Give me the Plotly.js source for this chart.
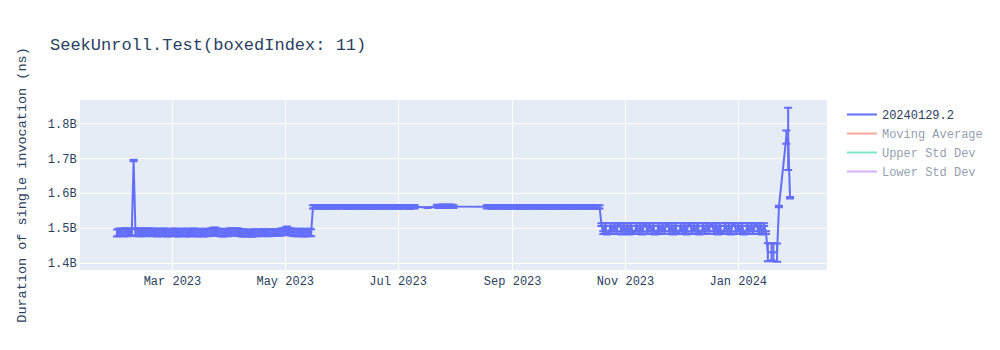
<!DOCTYPE html>
<html>
<head>
<meta charset="utf-8">
<script src="https://cdn.plot.ly/plotly-3.0.1.min.js"></script>
<style>html,body{margin:0;padding:0;background:#fff;}#chart{width:1000px;height:350px;}</style>
</head>
<body>
<div id="chart"></div>
<script>
// ---- Data ----
const chartTitle = 'SeekUnroll.Test(boxedIndex: 11)';
const yAxisTitle = 'Duration of single invocation (ns)';
const seriesName = '20240129.2';

// Segment 1: Jan 30 2023 - May 15 2023
const dates1 = [
 '2023-01-30','2023-01-31',
 '2023-02-01','2023-02-02','2023-02-03','2023-02-04','2023-02-05','2023-02-06','2023-02-07','2023-02-08','2023-02-09','2023-02-10',
 '2023-02-11','2023-02-12','2023-02-13','2023-02-14','2023-02-15','2023-02-16','2023-02-17','2023-02-18','2023-02-19','2023-02-20',
 '2023-02-21','2023-02-22','2023-02-23','2023-02-24','2023-02-25','2023-02-26','2023-02-27','2023-02-28',
 '2023-03-01','2023-03-02','2023-03-03','2023-03-04','2023-03-05','2023-03-06','2023-03-07','2023-03-08','2023-03-09','2023-03-10',
 '2023-03-11','2023-03-12','2023-03-13','2023-03-14','2023-03-15','2023-03-16','2023-03-17','2023-03-18','2023-03-19','2023-03-20',
 '2023-03-21','2023-03-22','2023-03-23','2023-03-24','2023-03-25','2023-03-26','2023-03-27','2023-03-28','2023-03-29','2023-03-30','2023-03-31',
 '2023-04-01','2023-04-02','2023-04-03','2023-04-04','2023-04-05','2023-04-06','2023-04-07','2023-04-08','2023-04-09','2023-04-10',
 '2023-04-11','2023-04-12','2023-04-13','2023-04-14','2023-04-15','2023-04-16','2023-04-17','2023-04-18','2023-04-19','2023-04-20',
 '2023-04-21','2023-04-22','2023-04-23','2023-04-24','2023-04-25','2023-04-26','2023-04-27','2023-04-28','2023-04-29','2023-04-30',
 '2023-05-01','2023-05-02','2023-05-03','2023-05-04','2023-05-05','2023-05-06','2023-05-07','2023-05-08','2023-05-09','2023-05-10',
 '2023-05-11','2023-05-12','2023-05-13','2023-05-14','2023-05-15'
];
const values1 = [
 1.486e9,1.488e9,
 1.489e9,1.487e9,1.488e9,1.490e9,1.487e9,1.489e9,1.488e9,1.694e9,1.489e9,1.487e9,
 1.490e9,1.488e9,1.489e9,1.487e9,1.488e9,1.490e9,1.488e9,1.487e9,1.489e9,1.488e9,
 1.486e9,1.488e9,1.487e9,1.489e9,1.488e9,1.486e9,1.487e9,1.488e9,
 1.487e9,1.489e9,1.488e9,1.486e9,1.487e9,1.488e9,1.489e9,1.487e9,1.486e9,1.488e9,
 1.487e9,1.489e9,1.488e9,1.486e9,1.487e9,1.488e9,1.487e9,1.486e9,1.488e9,1.487e9,
 1.488e9,1.489e9,1.490e9,1.491e9,1.489e9,1.488e9,1.487e9,1.486e9,1.487e9,1.488e9,1.487e9,
 1.489e9,1.490e9,1.488e9,1.489e9,1.490e9,1.488e9,1.487e9,1.486e9,1.487e9,1.485e9,
 1.483e9,1.484e9,1.486e9,1.487e9,1.486e9,1.487e9,1.488e9,1.486e9,1.487e9,1.488e9,
 1.487e9,1.486e9,1.487e9,1.488e9,1.487e9,1.488e9,1.487e9,1.488e9,1.489e9,1.490e9,
 1.491e9,1.493e9,1.490e9,1.489e9,1.488e9,1.487e9,1.488e9,1.487e9,1.488e9,1.487e9,
 1.486e9,1.488e9,1.487e9,1.488e9,1.487e9
];
const errors1 = [
 0.010e9,0.010e9,
 0.010e9,0.010e9,0.011e9,0.010e9,0.010e9,0.010e9,0.010e9,0.002e9,0.010e9,0.010e9,
 0.010e9,0.011e9,0.010e9,0.010e9,0.010e9,0.010e9,0.010e9,0.010e9,0.010e9,0.010e9,
 0.010e9,0.010e9,0.010e9,0.010e9,0.010e9,0.010e9,0.010e9,0.010e9,
 0.010e9,0.010e9,0.010e9,0.010e9,0.010e9,0.009e9,0.010e9,0.010e9,0.010e9,0.010e9,
 0.010e9,0.010e9,0.010e9,0.010e9,0.010e9,0.010e9,0.010e9,0.010e9,0.010e9,0.010e9,
 0.010e9,0.010e9,0.011e9,0.011e9,0.010e9,0.010e9,0.010e9,0.010e9,0.010e9,0.010e9,0.010e9,
 0.010e9,0.010e9,0.010e9,0.010e9,0.010e9,0.010e9,0.010e9,0.010e9,0.010e9,0.008e9,
 0.006e9,0.008e9,0.010e9,0.010e9,0.009e9,0.009e9,0.009e9,0.009e9,0.009e9,0.009e9,
 0.009e9,0.009e9,0.009e9,0.009e9,0.009e9,0.009e9,0.009e9,0.009e9,0.010e9,0.010e9,
 0.011e9,0.012e9,0.010e9,0.010e9,0.010e9,0.010e9,0.010e9,0.010e9,0.010e9,0.010e9,
 0.010e9,0.010e9,0.010e9,0.010e9,0.010e9
];

// Segment 2: May 16 2023 - Oct 18 2023 (with two gaps in July/August)
const dates2 = [
 '2023-05-16','2023-05-17','2023-05-18','2023-05-19','2023-05-20','2023-05-21','2023-05-22','2023-05-23','2023-05-24','2023-05-25',
 '2023-05-26','2023-05-27','2023-05-28','2023-05-29','2023-05-30','2023-05-31',
 '2023-06-01','2023-06-02','2023-06-03','2023-06-04','2023-06-05','2023-06-06','2023-06-07','2023-06-08','2023-06-09','2023-06-10',
 '2023-06-11','2023-06-12','2023-06-13','2023-06-14','2023-06-15','2023-06-16','2023-06-17','2023-06-18','2023-06-19','2023-06-20',
 '2023-06-21','2023-06-22','2023-06-23','2023-06-24','2023-06-25','2023-06-26','2023-06-27','2023-06-28','2023-06-29','2023-06-30',
 '2023-07-01','2023-07-02','2023-07-03','2023-07-04','2023-07-05','2023-07-06','2023-07-07','2023-07-08','2023-07-09','2023-07-10',
 '2023-07-17',
 '2023-07-22','2023-07-23','2023-07-24','2023-07-25','2023-07-26','2023-07-27','2023-07-28','2023-07-29','2023-07-30','2023-07-31',
 '2023-08-18','2023-08-19','2023-08-20','2023-08-21','2023-08-22','2023-08-23','2023-08-24','2023-08-25','2023-08-26','2023-08-27',
 '2023-08-28','2023-08-29','2023-08-30','2023-08-31',
 '2023-09-01','2023-09-02','2023-09-03','2023-09-04','2023-09-05','2023-09-06','2023-09-07','2023-09-08','2023-09-09','2023-09-10',
 '2023-09-11','2023-09-12','2023-09-13','2023-09-14','2023-09-15','2023-09-16','2023-09-17','2023-09-18','2023-09-19','2023-09-20',
 '2023-09-21','2023-09-22','2023-09-23','2023-09-24','2023-09-25','2023-09-26','2023-09-27','2023-09-28','2023-09-29','2023-09-30',
 '2023-10-01','2023-10-02','2023-10-03','2023-10-04','2023-10-05','2023-10-06','2023-10-07','2023-10-08','2023-10-09','2023-10-10',
 '2023-10-11','2023-10-12','2023-10-13','2023-10-14','2023-10-15','2023-10-16','2023-10-17','2023-10-18'
];
const values2 = [
 1.561e9,1.562e9,1.561e9,1.560e9,1.561e9,1.562e9,1.561e9,1.561e9,1.560e9,1.561e9,
 1.562e9,1.561e9,1.560e9,1.561e9,1.562e9,1.561e9,
 1.561e9,1.562e9,1.561e9,1.560e9,1.561e9,1.561e9,1.562e9,1.561e9,1.560e9,1.561e9,
 1.562e9,1.561e9,1.561e9,1.560e9,1.561e9,1.562e9,1.561e9,1.560e9,1.561e9,1.561e9,
 1.562e9,1.561e9,1.560e9,1.561e9,1.562e9,1.561e9,1.561e9,1.560e9,1.561e9,1.562e9,
 1.561e9,1.560e9,1.561e9,1.562e9,1.561e9,1.561e9,1.560e9,1.561e9,1.562e9,1.561e9,
 1.559e9,
 1.563e9,1.562e9,1.563e9,1.564e9,1.563e9,1.562e9,1.563e9,1.564e9,1.563e9,1.562e9,
 1.561e9,1.562e9,1.561e9,1.560e9,1.561e9,1.562e9,1.561e9,1.561e9,1.560e9,1.561e9,
 1.562e9,1.561e9,1.560e9,1.561e9,
 1.561e9,1.562e9,1.561e9,1.561e9,1.560e9,1.561e9,1.562e9,1.561e9,1.560e9,1.561e9,
 1.561e9,1.562e9,1.561e9,1.560e9,1.561e9,1.562e9,1.561e9,1.561e9,1.560e9,1.561e9,
 1.562e9,1.561e9,1.560e9,1.561e9,1.561e9,1.562e9,1.561e9,1.560e9,1.561e9,1.562e9,
 1.561e9,1.561e9,1.560e9,1.561e9,1.562e9,1.561e9,1.560e9,1.561e9,1.562e9,1.561e9,
 1.561e9,1.560e9,1.561e9,1.562e9,1.561e9,1.560e9,1.561e9,1.561e9
];
const errors2 = [
 0.0045e9,0.0045e9,0.0045e9,0.0045e9,0.0045e9,0.0045e9,0.0045e9,0.0045e9,0.0045e9,0.0045e9,
 0.0045e9,0.0045e9,0.0045e9,0.0045e9,0.0045e9,0.0045e9,
 0.0045e9,0.0045e9,0.0045e9,0.0045e9,0.0045e9,0.0045e9,0.0045e9,0.0045e9,0.0045e9,0.0045e9,
 0.0045e9,0.0045e9,0.0045e9,0.0045e9,0.0045e9,0.0045e9,0.0045e9,0.0045e9,0.0045e9,0.0045e9,
 0.0045e9,0.0045e9,0.0045e9,0.0045e9,0.0045e9,0.0045e9,0.0045e9,0.0045e9,0.0045e9,0.0045e9,
 0.0045e9,0.0045e9,0.0045e9,0.0045e9,0.0045e9,0.0045e9,0.0045e9,0.0045e9,0.0045e9,0.0045e9,
 0.001e9,
 0.0040e9,0.0040e9,0.0040e9,0.0040e9,0.0040e9,0.0040e9,0.0040e9,0.0040e9,0.0040e9,0.0040e9,
 0.0045e9,0.0045e9,0.0045e9,0.0045e9,0.0045e9,0.0045e9,0.0045e9,0.0045e9,0.0045e9,0.0045e9,
 0.0045e9,0.0045e9,0.0045e9,0.0045e9,
 0.0045e9,0.0045e9,0.0045e9,0.0045e9,0.0045e9,0.0045e9,0.0045e9,0.0045e9,0.0045e9,0.0045e9,
 0.0045e9,0.0045e9,0.0045e9,0.0045e9,0.0045e9,0.0045e9,0.0045e9,0.0045e9,0.0045e9,0.0045e9,
 0.0045e9,0.0045e9,0.0045e9,0.0045e9,0.0045e9,0.0045e9,0.0045e9,0.0045e9,0.0045e9,0.0045e9,
 0.0045e9,0.0045e9,0.0045e9,0.0045e9,0.0045e9,0.0045e9,0.0045e9,0.0045e9,0.0045e9,0.0045e9,
 0.0045e9,0.0045e9,0.0045e9,0.0045e9,0.0045e9,0.0045e9,0.0045e9,0.0045e9
];

// Segment 3: Oct 19 2023 - Jan 16 2024 (alternating between two levels)
const dates3 = [
 '2023-10-19','2023-10-20','2023-10-21','2023-10-22','2023-10-23','2023-10-24','2023-10-25','2023-10-26','2023-10-27','2023-10-28',
 '2023-10-29','2023-10-30','2023-10-31',
 '2023-11-01','2023-11-02','2023-11-03','2023-11-04','2023-11-05','2023-11-06','2023-11-07','2023-11-08','2023-11-09','2023-11-10',
 '2023-11-11','2023-11-12','2023-11-13','2023-11-14','2023-11-15','2023-11-16','2023-11-17','2023-11-18','2023-11-19','2023-11-20',
 '2023-11-21','2023-11-22','2023-11-23','2023-11-24','2023-11-25','2023-11-26','2023-11-27','2023-11-28','2023-11-29','2023-11-30',
 '2023-12-01','2023-12-02','2023-12-03','2023-12-04','2023-12-05','2023-12-06','2023-12-07','2023-12-08','2023-12-09','2023-12-10',
 '2023-12-11','2023-12-12','2023-12-13','2023-12-14','2023-12-15','2023-12-16','2023-12-17','2023-12-18','2023-12-19','2023-12-20',
 '2023-12-21','2023-12-22','2023-12-23','2023-12-24','2023-12-25','2023-12-26','2023-12-27','2023-12-28','2023-12-29','2023-12-30','2023-12-31',
 '2024-01-01','2024-01-02','2024-01-03','2024-01-04','2024-01-05','2024-01-06','2024-01-07','2024-01-08','2024-01-09','2024-01-10',
 '2024-01-11','2024-01-12','2024-01-13','2024-01-14','2024-01-15','2024-01-16'
];
const values3 = [
 1.510e9,1.487e9,1.511e9,1.486e9,1.487e9,1.510e9,1.488e9,1.511e9,1.487e9,1.509e9,
 1.510e9,1.486e9,1.511e9,
 1.487e9,1.510e9,1.486e9,1.511e9,1.487e9,1.488e9,1.510e9,1.487e9,1.511e9,1.486e9,
 1.510e9,1.509e9,1.487e9,1.511e9,1.488e9,1.510e9,1.486e9,1.487e9,1.511e9,1.487e9,
 1.510e9,1.488e9,1.509e9,1.511e9,1.487e9,1.510e9,1.486e9,1.511e9,1.487e9,1.488e9,
 1.510e9,1.487e9,1.511e9,1.486e9,1.510e9,1.511e9,1.487e9,1.510e9,1.488e9,1.511e9,
 1.486e9,1.487e9,1.510e9,1.487e9,1.511e9,1.488e9,1.510e9,1.509e9,1.487e9,1.511e9,
 1.486e9,1.510e9,1.487e9,1.488e9,1.511e9,1.487e9,1.510e9,1.486e9,1.511e9,1.510e9,1.487e9,
 1.510e9,1.487e9,1.511e9,1.486e9,1.487e9,1.510e9,1.488e9,1.511e9,1.487e9,1.510e9,
 1.509e9,1.487e9,1.511e9,1.486e9,1.510e9,1.487e9
];
const errors3 = [
 0.004e9,0.004e9,0.004e9,0.004e9,0.004e9,0.004e9,0.004e9,0.004e9,0.004e9,0.004e9,
 0.004e9,0.004e9,0.004e9,
 0.004e9,0.004e9,0.004e9,0.004e9,0.004e9,0.004e9,0.004e9,0.004e9,0.004e9,0.004e9,
 0.004e9,0.004e9,0.004e9,0.004e9,0.004e9,0.004e9,0.004e9,0.004e9,0.004e9,0.004e9,
 0.004e9,0.004e9,0.004e9,0.004e9,0.004e9,0.004e9,0.004e9,0.004e9,0.004e9,0.004e9,
 0.004e9,0.004e9,0.004e9,0.004e9,0.004e9,0.004e9,0.004e9,0.004e9,0.004e9,0.004e9,
 0.004e9,0.004e9,0.004e9,0.004e9,0.004e9,0.004e9,0.004e9,0.004e9,0.004e9,0.004e9,
 0.004e9,0.004e9,0.004e9,0.004e9,0.004e9,0.004e9,0.004e9,0.004e9,0.004e9,0.004e9,0.004e9,
 0.004e9,0.004e9,0.004e9,0.004e9,0.004e9,0.004e9,0.004e9,0.004e9,0.004e9,0.004e9,
 0.004e9,0.004e9,0.004e9,0.004e9,0.004e9,0.004e9
];

// Segment 4: Jan 17 2024 - Jan 29 2024
const dates4 = ['2024-01-17','2024-01-19','2024-01-20','2024-01-22','2024-01-23','2024-01-27','2024-01-28','2024-01-29'];
const values4 = [1.431e9,1.432e9,1.431e9,1.430e9,1.562e9,1.761e9,1.756e9,1.587e9];
const errors4 = [0.026e9,0.025e9,0.026e9,0.026e9,0.002e9,0.019e9,0.089e9,0.002e9];

// Hidden (legend-only) statistic series
const statDates = ['2023-01-30','2023-05-15','2023-05-16','2023-10-18','2023-10-19','2024-01-16','2024-01-29'];
const movingAverage = [1.488e9,1.488e9,1.520e9,1.561e9,1.540e9,1.498e9,1.600e9];
const upperStdDev  = [1.498e9,1.498e9,1.600e9,1.566e9,1.580e9,1.512e9,1.760e9];
const lowerStdDev  = [1.478e9,1.478e9,1.440e9,1.556e9,1.500e9,1.484e9,1.440e9];

const xRange = ['2023-01-10', '2024-02-18'];
const yRange = [1.38e9, 1.8674e9];

// ---- Build chart ----
const dates = dates1.concat(dates2, dates3, dates4);
const values = values1.concat(values2, values3, values4);
const errors = errors1.concat(errors2, errors3, errors4);

const colors = ['#636efa', '#EF553B', '#00cc96', '#ab63fa'];

const traces = [
  {
    type: 'scatter', mode: 'lines', name: seriesName,
    x: dates, y: values,
    line: {color: colors[0], width: 2},
    error_y: {type: 'data', array: errors, visible: true, color: colors[0], thickness: 2, width: 4}
  },
  {type: 'scatter', mode: 'lines', name: 'Moving Average', x: statDates, y: movingAverage,
   line: {color: colors[1], width: 2}, visible: 'legendonly'},
  {type: 'scatter', mode: 'lines', name: 'Upper Std Dev', x: statDates, y: upperStdDev,
   line: {color: colors[2], width: 2}, visible: 'legendonly'},
  {type: 'scatter', mode: 'lines', name: 'Lower Std Dev', x: statDates, y: lowerStdDev,
   line: {color: colors[3], width: 2}, visible: 'legendonly'}
];

const fontFamily = '"Courier New", "Liberation Mono", monospace';

const layout = {
  width: 1000, height: 350,
  font: {family: fontFamily, color: '#2a3f5f', size: 12},
  title: {text: chartTitle, x: 0.05, xanchor: 'left', font: {size: 17, family: fontFamily, color: '#2a3f5f'}},
  paper_bgcolor: '#ffffff',
  plot_bgcolor: '#E5ECF6',
  margin: {l: 80, r: 80, t: 100, b: 80},
  showlegend: true,
  legend: {font: {family: fontFamily, size: 12, color: '#2a3f5f'}},
  xaxis: {
    type: 'date', range: xRange,
    gridcolor: '#ffffff', gridwidth: 1, linecolor: '#ffffff', zeroline: false, ticks: '',
    automargin: true
  },
  yaxis: {
    range: yRange,
    gridcolor: '#ffffff', gridwidth: 1, linecolor: '#ffffff', zeroline: false, ticks: '',
    automargin: true,
    title: {text: yAxisTitle, standoff: 18, font: {family: fontFamily, size: 13.5, color: '#2a3f5f'}}
  },
  hovermode: 'closest'
};

Plotly.newPlot('chart', traces, layout, {displayModeBar: false, responsive: false});
</script>
</body>
</html>
